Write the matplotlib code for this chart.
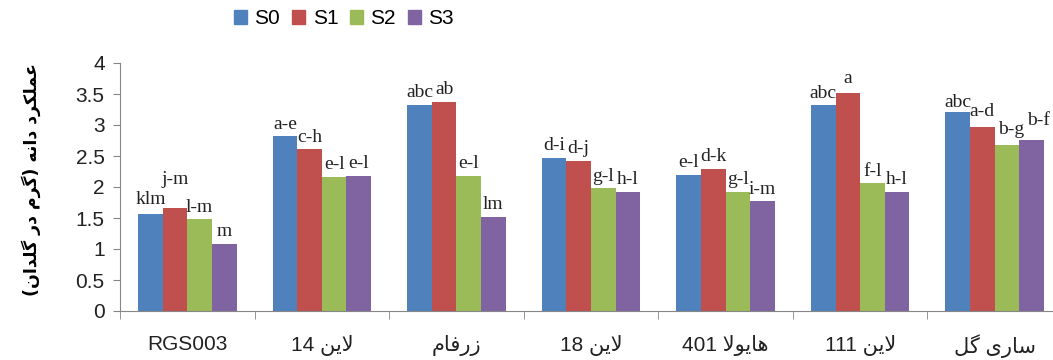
import re
import numpy as np
import matplotlib as mpl
import matplotlib.pyplot as plt
from matplotlib.patches import Patch

mpl.rcParams.update({
    "font.family": ["Liberation Sans", "DejaVu Sans"],
    "font.size": 14,
    "xtick.labelsize": 15,
    "ytick.labelsize": 15,
})

groups = ['RGS003', 'لاین 14', 'زرفام', 'لاین 18', 'هایولا 401', 'لاین 111', 'ساری گل']
series = ['S0', 'S1', 'S2', 'S3']
s0 = [1.56, 2.82, 3.33, 2.47, 2.20, 3.32, 3.21]
s1 = [1.66, 2.61, 3.37, 2.42, 2.29, 3.51, 2.97]
s2 = [1.48, 2.16, 2.18, 1.98, 1.92, 2.06, 2.68]
s3 = [1.08, 2.18, 1.52, 1.92, 1.77, 1.92, 2.76]
let_s0 = ['klm', 'a-e', 'abc', 'd-i', 'e-l', 'abc', 'abc']
let_s1 = ['j-m', 'c-h', 'ab', 'd-j', 'd-k', 'a', 'a-d']
let_s2 = ['l-m', 'e-l', 'e-l', 'g-l', 'g-l', 'f-l', 'b-g']
let_s3 = ['m', 'e-l', 'lm', 'h-l', 'i-m', 'h-l', 'b-f']
ylabel = 'عملکرد دانه (گرم در گلدان)'

colors = ['#4F81BD', '#C0504D', '#9BBB59', '#8064A2']

# --- minimal Persian shaping + RTL ordering (matplotlib has no text layout engine) ---
# isolated, final, initial, medial
FORMS = {
    'ا': ('\uFE8D', '\uFE8E', None, None),
    'د': ('\uFEA9', '\uFEAA', None, None),
    'ر': ('\uFEAD', '\uFEAE', None, None),
    'ز': ('\uFEAF', '\uFEB0', None, None),
    'و': ('\uFEED', '\uFEEE', None, None),
    'ل': ('\uFEDD', '\uFEDE', '\uFEDF', '\uFEE0'),
    'ی': ('\uFBFC', '\uFBFD', '\uFBFE', '\uFBFF'),
    'ن': ('\uFEE5', '\uFEE6', '\uFEE7', '\uFEE8'),
    'ف': ('\uFED1', '\uFED2', '\uFED3', '\uFED4'),
    'م': ('\uFEE1', '\uFEE2', '\uFEE3', '\uFEE4'),
    'ه': ('\uFEE9', '\uFEEA', '\uFEEB', '\uFEEC'),
    'س': ('\uFEB1', '\uFEB2', '\uFEB3', '\uFEB4'),
    'گ': ('\uFB92', '\uFB93', '\uFB94', '\uFB95'),
    'ع': ('\uFEC9', '\uFECA', '\uFECB', '\uFECC'),
    'ک': ('\uFB8E', '\uFB8F', '\uFB90', '\uFB91'),
}


def shape(s):
    out = []
    i = 0
    while i < len(s):
        c = s[i]
        prev = s[i - 1] if i > 0 else None
        jp = prev in FORMS and FORMS[prev][2] is not None
        if c == 'ل' and i + 1 < len(s) and s[i + 1] == 'ا':
            out.append('\uFEFC' if jp else '\uFEFB')
            i += 2
            continue
        if c not in FORMS:
            out.append(c)
            i += 1
            continue
        nxt = s[i + 1] if i + 1 < len(s) else None
        jn = FORMS[c][2] is not None and nxt in FORMS
        idx = 3 if (jp and jn) else 1 if jp else 2 if jn else 0
        out.append(FORMS[c][idx])
        i += 1
    return ''.join(out)


def rtl(s):
    runs = [r for r in re.split(r'([0-9A-Za-z.]+)', shape(s)) if r]
    mirror = str.maketrans('()', ')(')
    vis = []
    for r in reversed(runs):
        if re.fullmatch(r'[0-9A-Za-z.]+', r):
            vis.append(r)
        else:
            vis.append(r[::-1].translate(mirror))
    return ''.join(vis)


fig = plt.figure(figsize=(10.53, 3.6), dpi=100)
ax = fig.add_axes([120 / 1053, 49 / 360, 942 / 1053, 248 / 360])

x = np.arange(len(groups))
w = 0.183
vals = [s0, s1, s2, s3]
lets = [let_s0, let_s1, let_s2, let_s3]
# small hand nudges for crowded labels (points)
nudge = {(0, 0): (0, 2), (0, 1): (0, 12), (5, 1): (0, 2), (6, 0): (0, -2),
         (6, 1): (0, 2), (6, 2): (3, 2), (6, 3): (5, 5)}

for k in range(4):
    xs = x + (k - 1.5) * w
    ax.bar(xs, vals[k], width=w, color=colors[k], label=series[k])
    for g in range(len(groups)):
        dx, dy = nudge.get((g, k), (0, 0))
        ax.annotate(lets[k][g], (xs[g], vals[k][g]), xytext=(dx, 5.5 + dy),
                    textcoords='offset points', ha='center', va='baseline',
                    fontfamily='Liberation Serif', fontsize=14, color='#222222')

ax.set_xlim(-0.5, len(groups) - 0.5)
ax.set_ylim(0, 4)
ax.set_yticks(np.arange(0, 4.01, 0.5))
ax.set_yticklabels(['0', '0.5', '1', '1.5', '2', '2.5', '3', '3.5', '4'])
ax.set_xticks(x)
ax.set_xticklabels([rtl(g) for g in groups])
ax.set_xticks(np.arange(-0.5, len(groups), 1), minor=True)
ax.tick_params(axis='x', which='major', length=0, pad=17, colors='#222222')
ax.tick_params(axis='x', which='minor', length=6, color='#868686')
ax.tick_params(axis='y', length=5, color='#868686', pad=6, labelcolor='#222222')

for sp in ['top', 'right']:
    ax.spines[sp].set_visible(False)
for sp in ['left', 'bottom']:
    ax.spines[sp].set_color('#868686')

fig.text(31 / 1053, 180 / 360, rtl(ylabel), rotation=90, ha='center', va='center',
         fontfamily='DejaVu Sans', fontweight='bold', fontsize=12.5)

handles = [Patch(color=c) for c in colors]
fig.legend(handles, series, loc='center', bbox_to_anchor=(344 / 1053, 1 - 19 / 360),
           ncol=4, frameon=False, handlelength=0.62, handleheight=0.62,
           handletextpad=0.36, columnspacing=0.57, fontsize=15)

plt.savefig('out.png', dpi=100)
